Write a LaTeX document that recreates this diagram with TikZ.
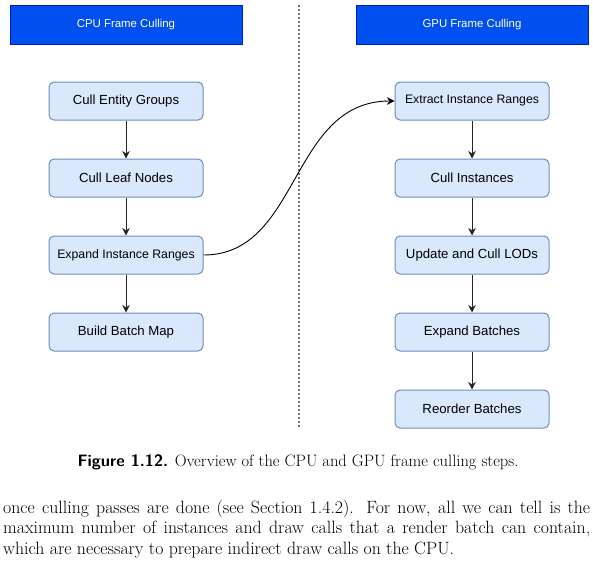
\documentclass[tikz,border=0pt]{standalone}
\usepackage{fontspec}
\newfontfamily\arialfont{Liberation Sans}
\usetikzlibrary{arrows.meta}
\definecolor{hdrfill}{HTML}{0050EF}
\definecolor{hdrline}{HTML}{001DBC}
\definecolor{boxfill}{HTML}{DAE8FC}
\definecolor{boxline}{HTML}{6C8EBF}
\tikzset{
  hdr/.style={draw=hdrline, fill=hdrfill, minimum width=232pt, minimum height=39pt, inner sep=0pt,
    text=white, font=\arialfont\fontsize{11.4}{13}\selectfont},
  stepbox/.style={draw=boxline, fill=boxfill, line width=1pt, rounded corners=5pt, minimum width=154pt, minimum height=38pt,
    inner sep=0pt, font=\arialfont\fontsize{13.2}{15}\selectfont},
  smallbox/.style={stepbox, font=\arialfont\fontsize{12.3}{14}\selectfont},
  arr/.style={draw=black!85, line width=0.9pt, -{Stealth[length=7.5pt,width=7.5pt]}},
}
\begin{document}
\begin{tikzpicture}[x=1pt,y=-1pt]
\useasboundingbox (0,0) rectangle (593,560);
\node[hdr] (cpuh) at (126,24.5) {CPU Frame Culling};
\node[hdr] (gpuh) at (472,24.5) {GPU Frame Culling};
\coordinate (dtop) at (299,5);
\coordinate (dbot) at (299,428);
\draw[dash pattern=on 2pt off 2pt, draw=black!55, line width=1.2pt] (dtop) -- (dbot);

\node[stepbox] (c1) at (126,101) {Cull Entity Groups};
\node[stepbox] (c2) at (126,178) {Cull Leaf Nodes};
\node[smallbox] (c3) at (126,255) {Expand Instance Ranges};
\node[stepbox] (c4) at (126,332) {Build Batch Map};

\node[smallbox] (g1) at (472,101) {Extract Instance Ranges};
\node[stepbox] (g2) at (472,178) {Cull Instances};
\node[stepbox] (g3) at (472,255) {Update and Cull LODs};
\node[stepbox] (g4) at (472,332) {Expand Batches};
\node[stepbox] (g5) at (472,409) {Reorder Batches};

\draw[arr] (c1) -- (c2);
\draw[arr] (c2) -- (c3);
\draw[arr] (c3) -- (c4);
\draw[arr] (g1) -- (g2);
\draw[arr] (g2) -- (g3);
\draw[arr] (g3) -- (g4);
\draw[arr] (g4) -- (g5);
\draw[arr, draw=black] (c3.east) .. controls +(97,0) and +(-105,0) .. (g1.west);

\node[anchor=base, inner sep=0pt, font=\fontsize{16.5}{19}\selectfont] (cap) at (298,466)
  {{\sffamily\bfseries Figure 1.12.} Overview of the CPU and GPU frame culling steps.};
\node[anchor=north west, inner sep=0pt, text width=587pt, align=justify,
  font=\fontsize{17.8}{20.7}\selectfont] (body) at (3,499.5)
  {once culling passes are done (see Section 1.4.2). For now, all we can tell is the\linebreak
   maximum number of instances and draw calls that a render batch can contain,\linebreak
   which are necessary to prepare indirect draw calls on the CPU.};
\end{tikzpicture}
\end{document}
